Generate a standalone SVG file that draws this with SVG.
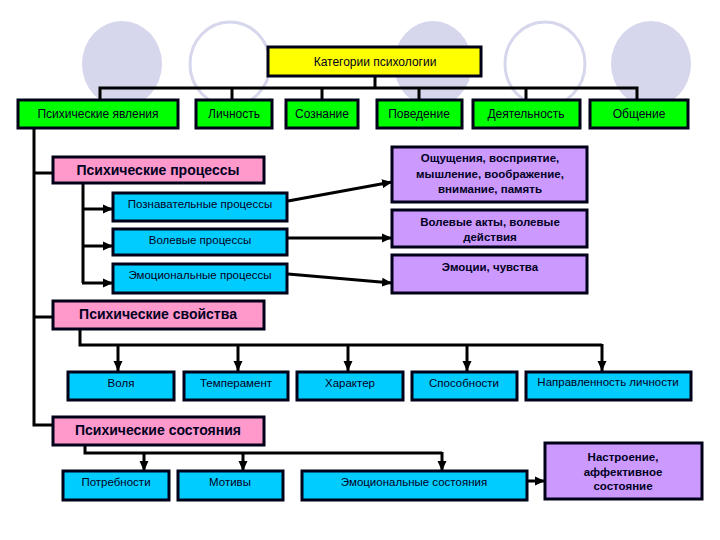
<svg xmlns="http://www.w3.org/2000/svg" width="720" height="540" viewBox="0 0 720 540">
<defs>
<marker id="ah" markerUnits="userSpaceOnUse" markerWidth="10" markerHeight="10" viewBox="0 0 10 10" refX="10" refY="5" orient="auto">
<path d="M0,0.5 L10,5 L0,9.5 Z" fill="#000"/>
</marker>
<style>
.bg{fill:#D6D6EC;stroke:none}
.bgo{fill:none;stroke:#D6D6EC;stroke-width:3}
.box{stroke:#000018;stroke-width:3}
.y{fill:#FFFF00}
.g{fill:#00FF00}
.p{fill:#FF99CC}
.b{fill:#00CCFF}
.v{fill:#CC99FF}
text{font-family:"Liberation Sans",Arial,sans-serif;fill:#000022;text-anchor:middle}
.t1{font-size:12px}
.t2{font-size:14px;font-weight:bold}
.t3{font-size:11.5px}
.t4{font-size:11.5px;font-weight:bold}
.c{fill:none;stroke:#000;stroke-width:3}
.a{fill:none;stroke:#000;stroke-width:3;marker-end:url(#ah)}
</style>
</defs>
<rect width="720" height="540" fill="#fff"/>
<g id="background">
<ellipse class="bg" cx="122" cy="64" rx="40" ry="43"/>
<ellipse class="bgo" cx="230" cy="64" rx="40" ry="42"/>
<ellipse class="bg" cx="433" cy="64" rx="39" ry="43"/>
<ellipse class="bgo" cx="545" cy="64" rx="40" ry="42"/>
<ellipse class="bg" cx="651" cy="64" rx="40" ry="43"/>
</g>
<g id="connectors">
<polyline class="c" points="375,76 375,88"/>
<polyline class="c" points="100,100 100,88 637,88 637,100"/>
<line class="c" x1="232" y1="88" x2="232" y2="100"/>
<line class="c" x1="322" y1="88" x2="322" y2="100"/>
<line class="c" x1="419" y1="88" x2="419" y2="100"/>
<line class="c" x1="526" y1="88" x2="526" y2="100"/>
<polyline class="c" points="34,128 34,425 53,425"/>
<line class="c" x1="34" y1="173" x2="53" y2="173"/>
<line class="c" x1="34" y1="317" x2="53" y2="317"/>
<polyline class="c" points="83,183 83,283"/>
<line class="a" x1="82" y1="209" x2="113" y2="209"/>
<line class="a" x1="82" y1="246" x2="113" y2="246"/>
<line class="a" x1="82" y1="283" x2="113" y2="283"/>
<line class="a" x1="288" y1="201" x2="392" y2="182"/>
<line class="a" x1="288" y1="238" x2="392" y2="238"/>
<line class="a" x1="288" y1="274" x2="392" y2="283"/>
<polyline class="c" points="80,329 80,345 602,345"/>
<line class="a" x1="118" y1="344" x2="118" y2="371"/>
<line class="a" x1="238" y1="344" x2="238" y2="371"/>
<line class="a" x1="348" y1="344" x2="348" y2="371"/>
<line class="a" x1="467" y1="344" x2="467" y2="371"/>
<line class="a" x1="602" y1="344" x2="602" y2="371"/>
<polyline class="c" points="85,445 85,453 442,453"/>
<line class="a" x1="144" y1="452" x2="144" y2="471"/>
<line class="a" x1="243" y1="452" x2="243" y2="471"/>
<line class="a" x1="442" y1="452" x2="442" y2="471"/>
<line class="a" x1="528" y1="481" x2="545" y2="481"/>
</g>
<g id="n-title"><rect class="box y" x="268" y="47" width="213" height="29"/><text class="t1" x="375" y="66">Категории психологии</text></g>
<g id="n-yavleniya"><rect class="box g" x="18" y="100" width="160" height="28"/><text class="t1" x="98" y="118">Психические явления</text></g>
<g id="n-lichnost"><rect class="box g" x="196" y="100" width="76" height="28"/><text class="t1" x="234" y="118">Личность</text></g>
<g id="n-soznanie"><rect class="box g" x="286" y="100" width="72" height="28"/><text class="t1" x="322" y="118">Сознание</text></g>
<g id="n-povedenie"><rect class="box g" x="377" y="100" width="85" height="28"/><text class="t1" x="419" y="118">Поведение</text></g>
<g id="n-deyatelnost"><rect class="box g" x="473" y="100" width="107" height="28"/><text class="t1" x="526" y="118">Деятельность</text></g>
<g id="n-obshchenie"><rect class="box g" x="590" y="100" width="98" height="28"/><text class="t1" x="639" y="118">Общение</text></g>
<g id="n-processy"><rect class="box p" x="53" y="157" width="211" height="26"/><text class="t2" x="158" y="175">Психические процессы</text></g>
<g id="n-poznav"><rect class="box b" x="113" y="193" width="174" height="28"/><text class="t3" x="200" y="208">Познавательные процессы</text></g>
<g id="n-volevye"><rect class="box b" x="113" y="229" width="174" height="26"/><text class="t3" x="200" y="244">Волевые процессы</text></g>
<g id="n-emoc"><rect class="box b" x="113" y="264" width="174" height="29"/><text class="t3" x="200" y="279">Эмоциональные процессы</text></g>
<g id="n-oshch"><rect class="box v" x="392" y="147" width="195" height="55"/><text class="t4" x="490" y="162">Ощущения, восприятие,</text><text class="t4" x="490" y="178">мышление, воображение,</text><text class="t4" x="490" y="193">внимание, память</text></g>
<g id="n-akty"><rect class="box v" x="392" y="210" width="195" height="37"/><text class="t4" x="490" y="226">Волевые акты, волевые</text><text class="t4" x="490" y="241">действия</text></g>
<g id="n-emocii"><rect class="box v" x="392" y="255" width="195" height="38"/><text class="t4" x="490" y="271">Эмоции, чувства</text></g>
<g id="n-svoystva"><rect class="box p" x="53" y="301" width="211" height="28"/><text class="t2" x="158" y="319">Психические свойства</text></g>
<g id="n-volya"><rect class="box b" x="68" y="372" width="106" height="28"/><text class="t3" x="121" y="387">Воля</text></g>
<g id="n-temperament"><rect class="box b" x="184" y="372" width="104" height="28"/><text class="t3" x="236" y="387">Темперамент</text></g>
<g id="n-harakter"><rect class="box b" x="297" y="372" width="106" height="28"/><text class="t3" x="350" y="387">Характер</text></g>
<g id="n-sposobnosti"><rect class="box b" x="412" y="372" width="105" height="28"/><text class="t3" x="464" y="387">Способности</text></g>
<g id="n-napravl"><rect class="box b" x="526" y="372" width="165" height="28"/><text class="t3" x="608" y="386">Направленность личности</text></g>
<g id="n-sostoyaniya"><rect class="box p" x="53" y="417" width="211" height="28"/><text class="t2" x="158" y="435">Психические состояния</text></g>
<g id="n-potrebnosti"><rect class="box b" x="63" y="471" width="106" height="29"/><text class="t3" x="116" y="486">Потребности</text></g>
<g id="n-motivy"><rect class="box b" x="178" y="471" width="105" height="29"/><text class="t3" x="230" y="486">Мотивы</text></g>
<g id="n-emsost"><rect class="box b" x="302" y="471" width="225" height="29"/><text class="t3" x="414" y="486">Эмоциональные состояния</text></g>
<g id="n-nastroenie"><rect class="box v" x="545" y="443" width="157" height="56"/><text class="t4" x="623" y="461">Настроение,</text><text class="t4" x="623" y="476">аффективное</text><text class="t4" x="623" y="490">состояние</text></g>
</svg>
